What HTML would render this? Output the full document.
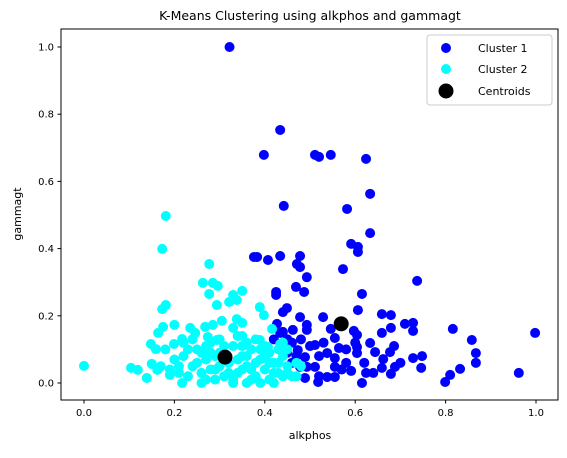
<!DOCTYPE html>
<html><head><meta charset="utf-8"><style>
body{margin:0;background:#fff;font-family:"Liberation Sans","DejaVu Sans",sans-serif}
svg text{font-family:"DejaVu Sans","Liberation Sans",sans-serif}
</style></head><body>
<svg id="chart" width="567" height="453" viewBox="0 0 567 453">
<rect width="567" height="453" fill="#fff"/>
<text x="310" y="20" text-anchor="middle" font-size="12.5">K-Means Clustering using alkphos and gammagt</text>
<g id="plot"></g>
<rect x="61" y="29" width="497" height="371" fill="none" stroke="#000" stroke-width="1"/>
<text x="310" y="439" text-anchor="middle" font-size="11">alkphos</text>
<text x="21" y="214" text-anchor="middle" font-size="11" transform="rotate(-90 21 214)">gammagt</text>
<g>
<rect x="427" y="35" width="125" height="70" rx="3" fill="#fff" fill-opacity="0.8" stroke="#ccc"/>
<g><circle cx="446" cy="48" r="5" fill="#0000ff"/><text x="478" y="52" font-size="11">Cluster 1</text></g>
<g><circle cx="446" cy="69" r="5" fill="#00ffff"/><text x="478" y="73" font-size="11">Cluster 2</text></g>
<g><circle cx="446" cy="91" r="7.5" fill="#000"/><text x="478" y="95" font-size="11">Centroids</text></g>
</g>
</svg>
<script>
const xTicks=[0,0.2,0.4,0.6,0.8,1.0];
const yTicks=[0,0.2,0.4,0.6,0.8,1.0];
const tickLabels=["0.0","0.2","0.4","0.6","0.8","1.0"];
const cluster1X=[.434,.398,.511,.520,.546,.624,.633,.442,.582,.633,.591,.606,.606,.376,.383,.407,.434,.478,.471,.478,.493,.573,.737,.469,.487,.425,.425,.615,.449,.440,.606,.478,.529,.659,.679,.710,.728,.728,.493,.493,.546,.679,.659,.816,.998,.858,.597,.604,.427,.462,.440,.434,.555,.511,.564,.604,.604,.633,.644,.686,.677,.867,.867,.728,.748,.746,.662,.659,.679,.688,.832,.810,.799,.962,.615,.624,.591,.538,.555,.555,.555,.538,.518,.489,.493,.511,.489,.473,.478,.46,.47,.52,.50,.53,.45,.58,.58,.62,.64,.70,.45,.48,.42,.44,.46,.52,.57,.60,.322];
const cluster1Y=[.753,.679,.679,.673,.679,.667,.563,.527,.518,.446,.414,.405,.390,.375,.375,.366,.378,.378,.354,.345,.315,.339,.304,.286,.271,.271,.262,.265,.223,.211,.217,.196,.196,.205,.202,.176,.179,.155,.173,.158,.161,.164,.149,.161,.149,.128,.155,.143,.176,.158,.152,.149,.134,.113,.104,.107,.089,.119,.092,.110,.092,.089,.060,.074,.080,.045,.071,.045,.027,.048,.042,.024,.003,.030,.000,.030,.036,.089,.074,.048,.018,.018,.003,.015,.048,.048,.077,.098,.048,.12,.08,.08,.11,.12,.09,.06,.10,.06,.03,.06,.13,.13,.13,.10,.06,.02,.04,.12,1.0];
const cluster2X=[0,.181,.173,.277,.263,.285,.296,.277,.330,.350,.338,.321,.294,.181,.173,.389,.398,.200,.175,.164,.235,.246,.268,.285,.305,.338,.350,.330,.416,.148,.159,.199,.217,.274,.294,.350,.389,.407,.434,.104,.119,.139,.150,.162,.190,.217,.22,.24,.25,.26,.27,.28,.29,.30,.31,.32,.33,.34,.35,.36,.37,.38,.39,.40,.41,.42,.43,.44,.45,.46,.47,.21,.23,.25,.27,.28,.30,.31,.33,.35,.36,.37,.38,.40,.41,.42,.43,.44,.45,.26,.29,.32,.34,.36,.39,.41,.23,.20,.19,.18,.17,.24,.30,.34,.26,.29,.33,.36,.39,.42,.45,.48,.47,.37,.31,.27,.35,.40,.43,.28,.38,.44,.22,.21];
const cluster2Y=[.051,.497,.399,.354,.298,.298,.289,.265,.262,.274,.247,.241,.232,.232,.220,.226,.202,.173,.167,.149,.164,.149,.167,.173,.185,.190,.179,.164,.161,.116,.101,.116,.131,.137,.128,.140,.128,.107,.116,.045,.039,.015,.057,.039,.024,.0,.08,.05,.10,.03,.07,.12,.04,.09,.02,.06,.11,.03,.08,.05,.10,.02,.07,.04,.09,.06,.03,.08,.05,.02,.06,.05,.02,.06,.01,.04,.05,.11,.01,.04,.12,.01,.06,.11,.01,.03,.10,.02,.10,.09,.08,.03,.07,.08,.10,.06,.10,.07,.04,.10,.05,.13,.13,.14,.00,.01,.00,.00,.00,.00,.03,.05,.02,.04,.07,.11,.11,.08,.06,.09,.13,.12,.12,.03];
const centroidX=[.312,.569];
const centroidY=[.077,.176];
const NS="http://www.w3.org/2000/svg";
function sx(v){return 84+v*452;}
function sy(v){return 383-v*336;}
const plot=document.getElementById('plot');
const svg=document.getElementById('chart');
xTicks.forEach((t,i)=>{
  const l=document.createElementNS(NS,'line');
  l.setAttribute('x1',sx(t));l.setAttribute('x2',sx(t));l.setAttribute('y1',400);l.setAttribute('y2',403.5);l.setAttribute('stroke','#000');
  
  
  svg.appendChild(l);
  const tx=document.createElementNS(NS,'text');
  tx.setAttribute('x',sx(t));tx.setAttribute('y',416);tx.setAttribute('text-anchor','middle');tx.setAttribute('font-size','10');
  tx.textContent=tickLabels[i];
  
  
  svg.appendChild(tx);
});
yTicks.forEach((t,i)=>{
  const l=document.createElementNS(NS,'line');
  l.setAttribute('x1',57.5);l.setAttribute('x2',61);l.setAttribute('y1',sy(t));l.setAttribute('y2',sy(t));l.setAttribute('stroke','#000');
  
  
  svg.appendChild(l);
  const tx=document.createElementNS(NS,'text');
  tx.setAttribute('x',54);tx.setAttribute('y',sy(t)+3.5);tx.setAttribute('text-anchor','end');tx.setAttribute('font-size','10');
  tx.textContent=tickLabels[i];
  
  
  svg.appendChild(tx);
});
function drawSeries(xs,ys,color,r,name){
  xs.forEach((x,i)=>{
    const c=document.createElementNS(NS,'circle');
    c.setAttribute('cx',sx(x));c.setAttribute('cy',sy(ys[i]));c.setAttribute('r',r);c.setAttribute('fill',color);
    
    
    plot.appendChild(c);
  });
}
drawSeries(cluster1X,cluster1Y,'#0000ff',5,'cluster-1-point');
drawSeries(cluster2X,cluster2Y,'#00ffff',5,'cluster-2-point');
drawSeries(centroidX,centroidY,'#000000',7.5,'centroid-point');
</script>
</body></html>
